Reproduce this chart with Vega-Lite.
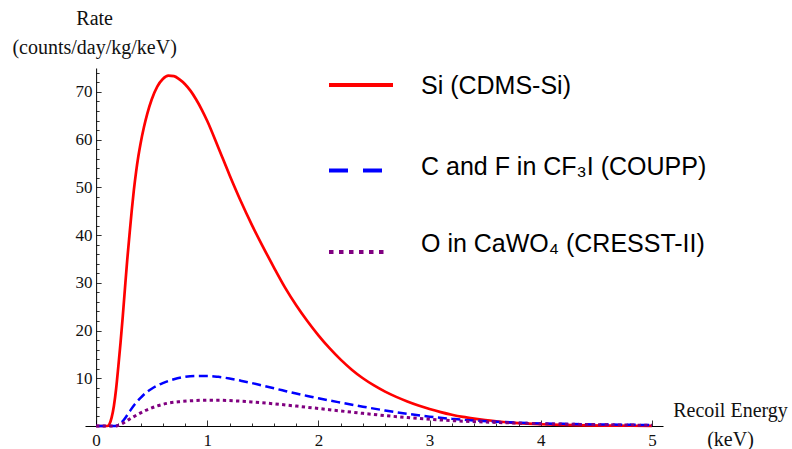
{
  "$schema": "https://vega.github.io/schema/vega-lite/v6.json",
  "width": 578,
  "height": 358,
  "autosize": "none",
  "padding": {"left": 85, "top": 68, "right": 129, "bottom": 23},
  "background": "white",
  "config": {
    "view": {"stroke": null},
    "axis": {"domainColor": "#000000", "domainWidth": 1, "gridColor": "#333333", "gridWidth": 1, "gridOpacity": 1, "labelFont": "Liberation Serif", "labelFontSize": 17, "labelColor": "#111111", "titleFont": "Liberation Serif", "titleFontSize": 20, "titleFontWeight": "normal", "titleColor": "#111111"},
    "legend": {"orient": "none", "legendX": 242, "legendY": -17, "padding": 0, "symbolType": "stroke", "symbolSize": 4096, "symbolStrokeWidth": 4, "labelFont": "Liberation Sans", "labelFontSize": 25, "labelColor": "#000000", "labelOffset": 26, "labelLimit": 500, "rowPadding": 37.5}
  },
  "data": {"values": [
    {"s": "Si (CDMS-Si)", "x": 0, "y": 0},
    {"s": "Si (CDMS-Si)", "x": 0.05, "y": 0},
    {"s": "Si (CDMS-Si)", "x": 0.1, "y": 0},
    {"s": "Si (CDMS-Si)", "x": 0.12, "y": 0.4},
    {"s": "Si (CDMS-Si)", "x": 0.14, "y": 1.8},
    {"s": "Si (CDMS-Si)", "x": 0.16, "y": 4.2},
    {"s": "Si (CDMS-Si)", "x": 0.18, "y": 7.8},
    {"s": "Si (CDMS-Si)", "x": 0.2, "y": 12.5},
    {"s": "Si (CDMS-Si)", "x": 0.22, "y": 17.5},
    {"s": "Si (CDMS-Si)", "x": 0.24, "y": 23},
    {"s": "Si (CDMS-Si)", "x": 0.26, "y": 29},
    {"s": "Si (CDMS-Si)", "x": 0.28, "y": 34.8},
    {"s": "Si (CDMS-Si)", "x": 0.3, "y": 40},
    {"s": "Si (CDMS-Si)", "x": 0.32, "y": 45},
    {"s": "Si (CDMS-Si)", "x": 0.34, "y": 49.5},
    {"s": "Si (CDMS-Si)", "x": 0.36, "y": 53.3},
    {"s": "Si (CDMS-Si)", "x": 0.38, "y": 56.5},
    {"s": "Si (CDMS-Si)", "x": 0.4, "y": 59.2},
    {"s": "Si (CDMS-Si)", "x": 0.43, "y": 62.6},
    {"s": "Si (CDMS-Si)", "x": 0.46, "y": 65.4},
    {"s": "Si (CDMS-Si)", "x": 0.5, "y": 68.4},
    {"s": "Si (CDMS-Si)", "x": 0.55, "y": 71.1},
    {"s": "Si (CDMS-Si)", "x": 0.6, "y": 72.7},
    {"s": "Si (CDMS-Si)", "x": 0.65, "y": 73.4},
    {"s": "Si (CDMS-Si)", "x": 0.7, "y": 73.3},
    {"s": "Si (CDMS-Si)", "x": 0.75, "y": 72.6},
    {"s": "Si (CDMS-Si)", "x": 0.8, "y": 71.6},
    {"s": "Si (CDMS-Si)", "x": 0.85, "y": 70.2},
    {"s": "Si (CDMS-Si)", "x": 0.9, "y": 68.4},
    {"s": "Si (CDMS-Si)", "x": 0.95, "y": 66.3},
    {"s": "Si (CDMS-Si)", "x": 1.0, "y": 63.9},
    {"s": "Si (CDMS-Si)", "x": 1.1, "y": 58.3},
    {"s": "Si (CDMS-Si)", "x": 1.2, "y": 52.6},
    {"s": "Si (CDMS-Si)", "x": 1.3, "y": 47.2},
    {"s": "Si (CDMS-Si)", "x": 1.4, "y": 42.2},
    {"s": "Si (CDMS-Si)", "x": 1.5, "y": 37.6},
    {"s": "Si (CDMS-Si)", "x": 1.6, "y": 33.2},
    {"s": "Si (CDMS-Si)", "x": 1.7, "y": 29.0},
    {"s": "Si (CDMS-Si)", "x": 1.8, "y": 25.3},
    {"s": "Si (CDMS-Si)", "x": 1.9, "y": 22.0},
    {"s": "Si (CDMS-Si)", "x": 2.0, "y": 19.0},
    {"s": "Si (CDMS-Si)", "x": 2.1, "y": 16.3},
    {"s": "Si (CDMS-Si)", "x": 2.2, "y": 13.9},
    {"s": "Si (CDMS-Si)", "x": 2.3, "y": 11.8},
    {"s": "Si (CDMS-Si)", "x": 2.4, "y": 10.0},
    {"s": "Si (CDMS-Si)", "x": 2.5, "y": 8.5},
    {"s": "Si (CDMS-Si)", "x": 2.6, "y": 7.2},
    {"s": "Si (CDMS-Si)", "x": 2.7, "y": 6.1},
    {"s": "Si (CDMS-Si)", "x": 2.8, "y": 5.15},
    {"s": "Si (CDMS-Si)", "x": 2.9, "y": 4.3},
    {"s": "Si (CDMS-Si)", "x": 3.0, "y": 3.55},
    {"s": "Si (CDMS-Si)", "x": 3.1, "y": 2.9},
    {"s": "Si (CDMS-Si)", "x": 3.2, "y": 2.35},
    {"s": "Si (CDMS-Si)", "x": 3.3, "y": 1.9},
    {"s": "Si (CDMS-Si)", "x": 3.4, "y": 1.55},
    {"s": "Si (CDMS-Si)", "x": 3.5, "y": 1.25},
    {"s": "Si (CDMS-Si)", "x": 3.6, "y": 1.0},
    {"s": "Si (CDMS-Si)", "x": 3.8, "y": 0.6},
    {"s": "Si (CDMS-Si)", "x": 4.0, "y": 0.37},
    {"s": "Si (CDMS-Si)", "x": 4.2, "y": 0.22},
    {"s": "Si (CDMS-Si)", "x": 4.4, "y": 0.13},
    {"s": "Si (CDMS-Si)", "x": 4.6, "y": 0.08},
    {"s": "Si (CDMS-Si)", "x": 4.8, "y": 0.05},
    {"s": "Si (CDMS-Si)", "x": 5.0, "y": 0.03},
    {"s": "C and F in CF₃I (COUPP)", "x": 0, "y": 0},
    {"s": "C and F in CF₃I (COUPP)", "x": 0.1, "y": 0},
    {"s": "C and F in CF₃I (COUPP)", "x": 0.17, "y": 0},
    {"s": "C and F in CF₃I (COUPP)", "x": 0.2, "y": 0.2},
    {"s": "C and F in CF₃I (COUPP)", "x": 0.25, "y": 1.3},
    {"s": "C and F in CF₃I (COUPP)", "x": 0.3, "y": 3.0},
    {"s": "C and F in CF₃I (COUPP)", "x": 0.35, "y": 4.6},
    {"s": "C and F in CF₃I (COUPP)", "x": 0.4, "y": 5.9},
    {"s": "C and F in CF₃I (COUPP)", "x": 0.45, "y": 7.0},
    {"s": "C and F in CF₃I (COUPP)", "x": 0.5, "y": 7.8},
    {"s": "C and F in CF₃I (COUPP)", "x": 0.6, "y": 9.0},
    {"s": "C and F in CF₃I (COUPP)", "x": 0.7, "y": 9.8},
    {"s": "C and F in CF₃I (COUPP)", "x": 0.8, "y": 10.3},
    {"s": "C and F in CF₃I (COUPP)", "x": 0.9, "y": 10.5},
    {"s": "C and F in CF₃I (COUPP)", "x": 1.0, "y": 10.5},
    {"s": "C and F in CF₃I (COUPP)", "x": 1.1, "y": 10.3},
    {"s": "C and F in CF₃I (COUPP)", "x": 1.2, "y": 9.95},
    {"s": "C and F in CF₃I (COUPP)", "x": 1.3, "y": 9.5},
    {"s": "C and F in CF₃I (COUPP)", "x": 1.4, "y": 9.0},
    {"s": "C and F in CF₃I (COUPP)", "x": 1.5, "y": 8.45},
    {"s": "C and F in CF₃I (COUPP)", "x": 1.6, "y": 7.9},
    {"s": "C and F in CF₃I (COUPP)", "x": 1.7, "y": 7.35},
    {"s": "C and F in CF₃I (COUPP)", "x": 1.8, "y": 6.8},
    {"s": "C and F in CF₃I (COUPP)", "x": 1.9, "y": 6.3},
    {"s": "C and F in CF₃I (COUPP)", "x": 2.0, "y": 5.8},
    {"s": "C and F in CF₃I (COUPP)", "x": 2.2, "y": 4.9},
    {"s": "C and F in CF₃I (COUPP)", "x": 2.4, "y": 4.05},
    {"s": "C and F in CF₃I (COUPP)", "x": 2.6, "y": 3.25},
    {"s": "C and F in CF₃I (COUPP)", "x": 2.8, "y": 2.55},
    {"s": "C and F in CF₃I (COUPP)", "x": 3.0, "y": 1.95},
    {"s": "C and F in CF₃I (COUPP)", "x": 3.2, "y": 1.5},
    {"s": "C and F in CF₃I (COUPP)", "x": 3.4, "y": 1.15},
    {"s": "C and F in CF₃I (COUPP)", "x": 3.6, "y": 0.9},
    {"s": "C and F in CF₃I (COUPP)", "x": 3.8, "y": 0.7},
    {"s": "C and F in CF₃I (COUPP)", "x": 4.0, "y": 0.55},
    {"s": "C and F in CF₃I (COUPP)", "x": 4.2, "y": 0.45},
    {"s": "C and F in CF₃I (COUPP)", "x": 4.4, "y": 0.37},
    {"s": "C and F in CF₃I (COUPP)", "x": 4.7, "y": 0.28},
    {"s": "C and F in CF₃I (COUPP)", "x": 5.0, "y": 0.2},
    {"s": "O in CaWO₄ (CRESST-II)", "x": 0, "y": 0},
    {"s": "O in CaWO₄ (CRESST-II)", "x": 0.1, "y": 0},
    {"s": "O in CaWO₄ (CRESST-II)", "x": 0.18, "y": 0},
    {"s": "O in CaWO₄ (CRESST-II)", "x": 0.22, "y": 0.3},
    {"s": "O in CaWO₄ (CRESST-II)", "x": 0.27, "y": 1.0},
    {"s": "O in CaWO₄ (CRESST-II)", "x": 0.35, "y": 2.1},
    {"s": "O in CaWO₄ (CRESST-II)", "x": 0.45, "y": 3.3},
    {"s": "O in CaWO₄ (CRESST-II)", "x": 0.55, "y": 4.2},
    {"s": "O in CaWO₄ (CRESST-II)", "x": 0.65, "y": 4.8},
    {"s": "O in CaWO₄ (CRESST-II)", "x": 0.75, "y": 5.1},
    {"s": "O in CaWO₄ (CRESST-II)", "x": 0.85, "y": 5.28},
    {"s": "O in CaWO₄ (CRESST-II)", "x": 1.0, "y": 5.4},
    {"s": "O in CaWO₄ (CRESST-II)", "x": 1.1, "y": 5.4},
    {"s": "O in CaWO₄ (CRESST-II)", "x": 1.2, "y": 5.33},
    {"s": "O in CaWO₄ (CRESST-II)", "x": 1.3, "y": 5.2},
    {"s": "O in CaWO₄ (CRESST-II)", "x": 1.4, "y": 5.04},
    {"s": "O in CaWO₄ (CRESST-II)", "x": 1.6, "y": 4.65},
    {"s": "O in CaWO₄ (CRESST-II)", "x": 1.8, "y": 4.17},
    {"s": "O in CaWO₄ (CRESST-II)", "x": 2.0, "y": 3.67},
    {"s": "O in CaWO₄ (CRESST-II)", "x": 2.2, "y": 3.15},
    {"s": "O in CaWO₄ (CRESST-II)", "x": 2.4, "y": 2.65},
    {"s": "O in CaWO₄ (CRESST-II)", "x": 2.6, "y": 2.18},
    {"s": "O in CaWO₄ (CRESST-II)", "x": 2.8, "y": 1.77},
    {"s": "O in CaWO₄ (CRESST-II)", "x": 3.0, "y": 1.42},
    {"s": "O in CaWO₄ (CRESST-II)", "x": 3.2, "y": 1.13},
    {"s": "O in CaWO₄ (CRESST-II)", "x": 3.5, "y": 0.82},
    {"s": "O in CaWO₄ (CRESST-II)", "x": 3.8, "y": 0.6},
    {"s": "O in CaWO₄ (CRESST-II)", "x": 4.0, "y": 0.48},
    {"s": "O in CaWO₄ (CRESST-II)", "x": 4.4, "y": 0.32},
    {"s": "O in CaWO₄ (CRESST-II)", "x": 5.0, "y": 0.15}
  ]},
  "encoding": {
    "x": {"field": "x", "type": "quantitative", "scale": {"domain": [-0.1, 5.1], "nice": false, "zero": false},
      "axis": {"orient": "bottom", "values": [0, 0.2, 0.4, 0.6, 0.8, 1, 1.2, 1.4, 1.6, 1.8, 2, 2.2, 2.4, 2.6, 2.8, 3, 3.2, 3.4, 3.6, 3.8, 4, 4.2, 4.4, 4.6, 4.8, 5],
        "ticks": false, "grid": true,
        "gridDash": {"condition": {"test": "abs(datum.value - round(datum.value)) < 0.01", "value": [0, 352, 6, 2000]}, "value": [0, 355, 3, 2000]},
        "labelExpr": "abs(datum.value - round(datum.value)) < 0.01 ? format(datum.value, 'd') : ''",
        "labelPadding": 6, "labelFlush": false, "labelOverlap": false,
        "title": ["Recoil Energy", "(keV)"], "titleX": 645, "titleY": -10, "titleAlign": "center", "titleBaseline": "alphabetic", "titleLineHeight": 29}},
    "y": {"field": "y", "type": "quantitative", "scale": {"domain": [0, 75], "nice": false},
      "axis": {"orient": "left", "offset": -11.12, "values": [2, 4, 6, 8, 10, 12, 14, 16, 18, 20, 22, 24, 26, 28, 30, 32, 34, 36, 38, 40, 42, 44, 46, 48, 50, 52, 54, 56, 58, 60, 62, 64, 66, 68, 70, 72, 74],
        "ticks": false, "grid": true,
        "gridDash": {"condition": {"test": "datum.value % 10 === 0", "value": [0, 11.12, 5, 2000]}, "value": [0, 11.12, 3, 2000]},
        "labelExpr": "datum.value % 10 === 0 ? datum.label : ''",
        "labelPadding": 4, "labelOverlap": false,
        "title": ["Rate", "(counts/day/kg/keV)"], "titleAngle": 0, "titleX": -2, "titleY": -44, "titleAlign": "center", "titleBaseline": "alphabetic", "titleLineHeight": 29}},
    "color": {"field": "s", "type": "nominal",
      "scale": {"domain": ["Si (CDMS-Si)", "C and F in CF₃I (COUPP)", "O in CaWO₄ (CRESST-II)"], "range": ["#ff0000", "#0000ff", "#800080"]},
      "legend": {"title": null,
        "encode": {
          "symbols": {"update": {
            "stroke": {"signal": "datum.index === 0 ? '#ff0000' : datum.index === 1 ? '#1874c8' : '#7030a0'"},
            "strokeDash": {"signal": "datum.index === 0 ? [1, 0] : datum.index === 1 ? [19, 15, 19, 30] : [4.5, 5.5, 4.5, 5.5, 4.5, 5.5, 4.5, 5.5, 4.5, 5.5, 4.5, 30]"},
            "strokeWidth": {"value": 4}}},
          "labels": {"update": {"dy": {"signal": "datum.index === 0 ? 1 : datum.index === 1 ? -3.5 : -8"}}}}}}
  },
  "layer": [
    {
      "transform": [{"filter": "datum.s === 'Si (CDMS-Si)'"}],
      "mark": {"type": "line", "interpolate": "monotone", "strokeCap": "butt", "strokeWidth": 2.7}
    },
    {
      "transform": [{"filter": "datum.s === 'C and F in CF₃I (COUPP)'"}],
      "mark": {"type": "line", "interpolate": "monotone", "strokeCap": "butt", "strokeWidth": 2.5, "strokeDash": [9, 4.5]}
    },
    {
      "transform": [{"filter": "datum.s === 'O in CaWO₄ (CRESST-II)'"}],
      "mark": {"type": "line", "interpolate": "monotone", "strokeCap": "butt", "strokeWidth": 3, "strokeDash": [3.3, 3.3]}
    }
  ]
}
